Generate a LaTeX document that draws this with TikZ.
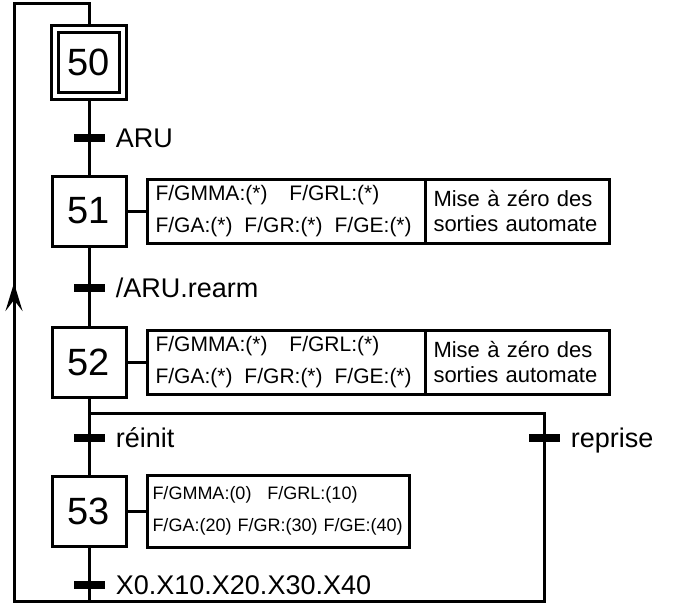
\documentclass[tikz,border=0pt]{standalone}
\usepackage{fontspec}
\setmainfont{Liberation Sans}
\usetikzlibrary{positioning,arrows.meta}

\begin{document}
\begin{tikzpicture}[
    x=1pt,y=-1pt,
    node distance=20pt,
    stepbox/.style={rectangle,draw,line width=3pt,inner sep=0pt,
                    minimum width=74pt,minimum height=70pt,
                    font=\fontsize{38}{38}\selectfont},
    initstep/.style={stepbox,double,double distance=4pt,
                     minimum width=68pt,minimum height=67pt,outer sep=5pt},
    trbar/.style={rectangle,fill=black,inner sep=0pt,
                  minimum width=31pt,minimum height=8pt},
    trlabel/.style={inner sep=0pt,text height=19pt,text depth=0pt,
                    font=\fontsize{27}{27}\selectfont},
    actbox/.style={rectangle,draw,line width=3pt,outer sep=0pt,align=left,
                   inner xsep=8pt,minimum height=64pt,text width=262pt,
                   font=\fontsize{21}{32}\selectfont},
    notebox/.style={rectangle,draw,line width=3pt,outer sep=0pt,align=left,
                    inner xsep=8pt,minimum height=64pt,text width=168pt,
                    font=\fontsize{22}{25}\selectfont},
    link/.style={line width=3pt},
    uparrow/.style={link,-{Stealth[length=28pt,width=17pt,inset=11pt]}},
]
    \useasboundingbox (0,0) rectangle (675,611);

    \node[initstep] (s50) at (89,62.5) {50};
    \node[stepbox]  (s51) at (89,211)  {51};
    \node[stepbox]  (s52) at (89,362)  {52};
    \node[stepbox]  (s53) at (89,511)  {53};

    \node[actbox,right=of s51] (act51)
        {F/GMMA:(*)\hspace{22pt}F/GRL:(*)\\F/GA:(*)\hspace{12pt}F/GR:(*)\hspace{12pt}F/GE:(*)};
    \node[notebox,anchor=west] (note51) at (act51.east) {Mise à zéro des\\sorties automate};
    \node[actbox,right=of s52] (act52)
        {F/GMMA:(*)\hspace{22pt}F/GRL:(*)\\F/GA:(*)\hspace{12pt}F/GR:(*)\hspace{12pt}F/GE:(*)};
    \node[notebox,anchor=west] (note52) at (act52.east) {Mise à zéro des\\sorties automate};
    \node[actbox,right=of s53,inner xsep=5pt,text width=252pt,minimum height=72pt,
          font=\fontsize{18}{32}\selectfont] (act53)
        {F/GMMA:(0)\hspace{16pt}F/GRL:(10)\\F/GA:(20)\hspace{6pt}F/GR:(30)\hspace{6pt}F/GE:(40)};

    \coordinate (fork) at (89,413);
    \coordinate (bot)  at (89,601);
    \coordinate (botr) at (544,601);
    \coordinate (botl) at (14,601);
    \coordinate (topl) at (14,3);
    \coordinate (upbase) at (14,330);
    \coordinate (uptip)  at (14,283);

    \draw[link] (s50) -- (s51);
    \draw[link] (s51) -- (s52);
    \draw[link] (s52) -- (s53);
    \draw[link] (s53) -- (bot);
    \draw[link] (s51) -- (act51);
    \draw[link] (s52) -- (act52);
    \draw[link] (s53) -- (act53);
    \draw[link] (fork) -| (botr) -- (botl) -- (topl) -| (s50);
    \draw[uparrow] (upbase) -- (uptip);

    \node[trbar] (t50)  at (89,138)  {};
    \node[trbar] (t51)  at (89,288)  {};
    \node[trbar] (t52a) at (89,438)  {};
    \node[trbar] (t52b) at (544,438) {};
    \node[trbar] (t53)  at (89,585)  {};

    \node[trlabel,right=11pt of t50]  (l50)  {ARU};
    \node[trlabel,right=11pt of t51]  (l51)  {/ARU.rearm};
    \node[trlabel,right=11pt of t52a] (l52a) {réinit};
    \node[trlabel,right=11pt of t52b] (l52b) {reprise};
    \node[trlabel,right=11pt of t53]  (l53)  {X0.X10.X20.X30.X40};
\end{tikzpicture}
\end{document}
